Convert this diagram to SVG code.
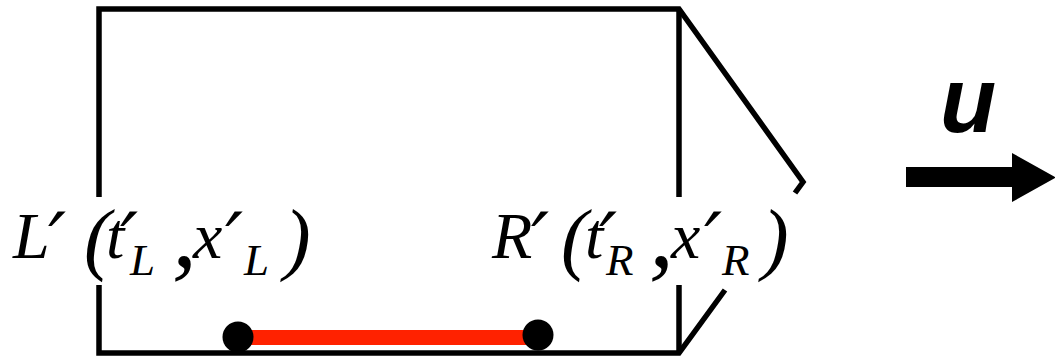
<svg xmlns="http://www.w3.org/2000/svg" width="1055" height="358" viewBox="0 0 1055 358">
<style>
.ln{fill:none;stroke:#000;stroke-width:5.5;stroke-linejoin:miter;stroke-linecap:butt}
.lbl{font-family:"Liberation Serif","Times New Roman",serif;font-style:italic;font-size:66px;fill:#000}
.sub{font-size:45px}
.pr{font-family:"DejaVu Serif",serif;font-style:italic;font-size:80px}
.par{font-size:80px}
.cm{font-size:100px}
.u{font-family:"Liberation Sans",Arial,sans-serif;font-weight:bold;font-style:italic;font-size:92px;fill:#000}
</style>
<rect width="1055" height="358" fill="#fff"/>
<g id="frame">
<polyline class="ln" points="99,197 99,9 679,9 803,182 795,193"/>
<line class="ln" x1="679" y1="9" x2="679" y2="197"/>
<polyline class="ln" points="99,285 99,353 679,353 725,290"/>
<line class="ln" x1="679" y1="285" x2="679" y2="353"/>
</g>
<g id="segment">
<line x1="238" y1="337.5" x2="538" y2="337.5" stroke="#ff2200" stroke-width="15"/>
</g>
<g id="pointL">
<circle cx="238" cy="337" r="15.5" fill="#000"/>
</g>
<g id="pointR">
<circle cx="538" cy="335" r="15.5" fill="#000"/>
</g>
<g id="labelL">
<text class="lbl" y="258"><tspan x="13">L</tspan><tspan class="pr" x="48" y="270">′</tspan><tspan class="par" x="84" y="265">(</tspan><tspan x="106" y="258">t</tspan><tspan class="pr" x="120" y="270">′</tspan><tspan class="sub" x="130" y="275">L</tspan><tspan class="cm" x="172" y="266">,</tspan><tspan x="193" y="258">x</tspan><tspan class="pr" x="225" y="270">′</tspan><tspan class="sub" x="244" y="275">L</tspan><tspan class="par" x="284" y="265">)</tspan></text>
</g>
<g id="labelR">
<text class="lbl" y="258"><tspan x="492">R</tspan><tspan class="pr" x="531" y="270">′</tspan><tspan class="par" x="561" y="265">(</tspan><tspan x="585" y="258">t</tspan><tspan class="pr" x="599" y="270">′</tspan><tspan class="sub" x="606" y="275">R</tspan><tspan class="cm" x="649" y="266">,</tspan><tspan x="671" y="258">x</tspan><tspan class="pr" x="704" y="270">′</tspan><tspan class="sub" x="722" y="275">R</tspan><tspan class="par" x="762" y="265">)</tspan></text>
</g>
<g id="velocity">
<text class="u" x="940" y="132">u</text>
<polygon points="906,167 1012,167 1012,153 1056,177.5 1012,202 1012,187 906,187" fill="#000"/>
</g>
</svg>
